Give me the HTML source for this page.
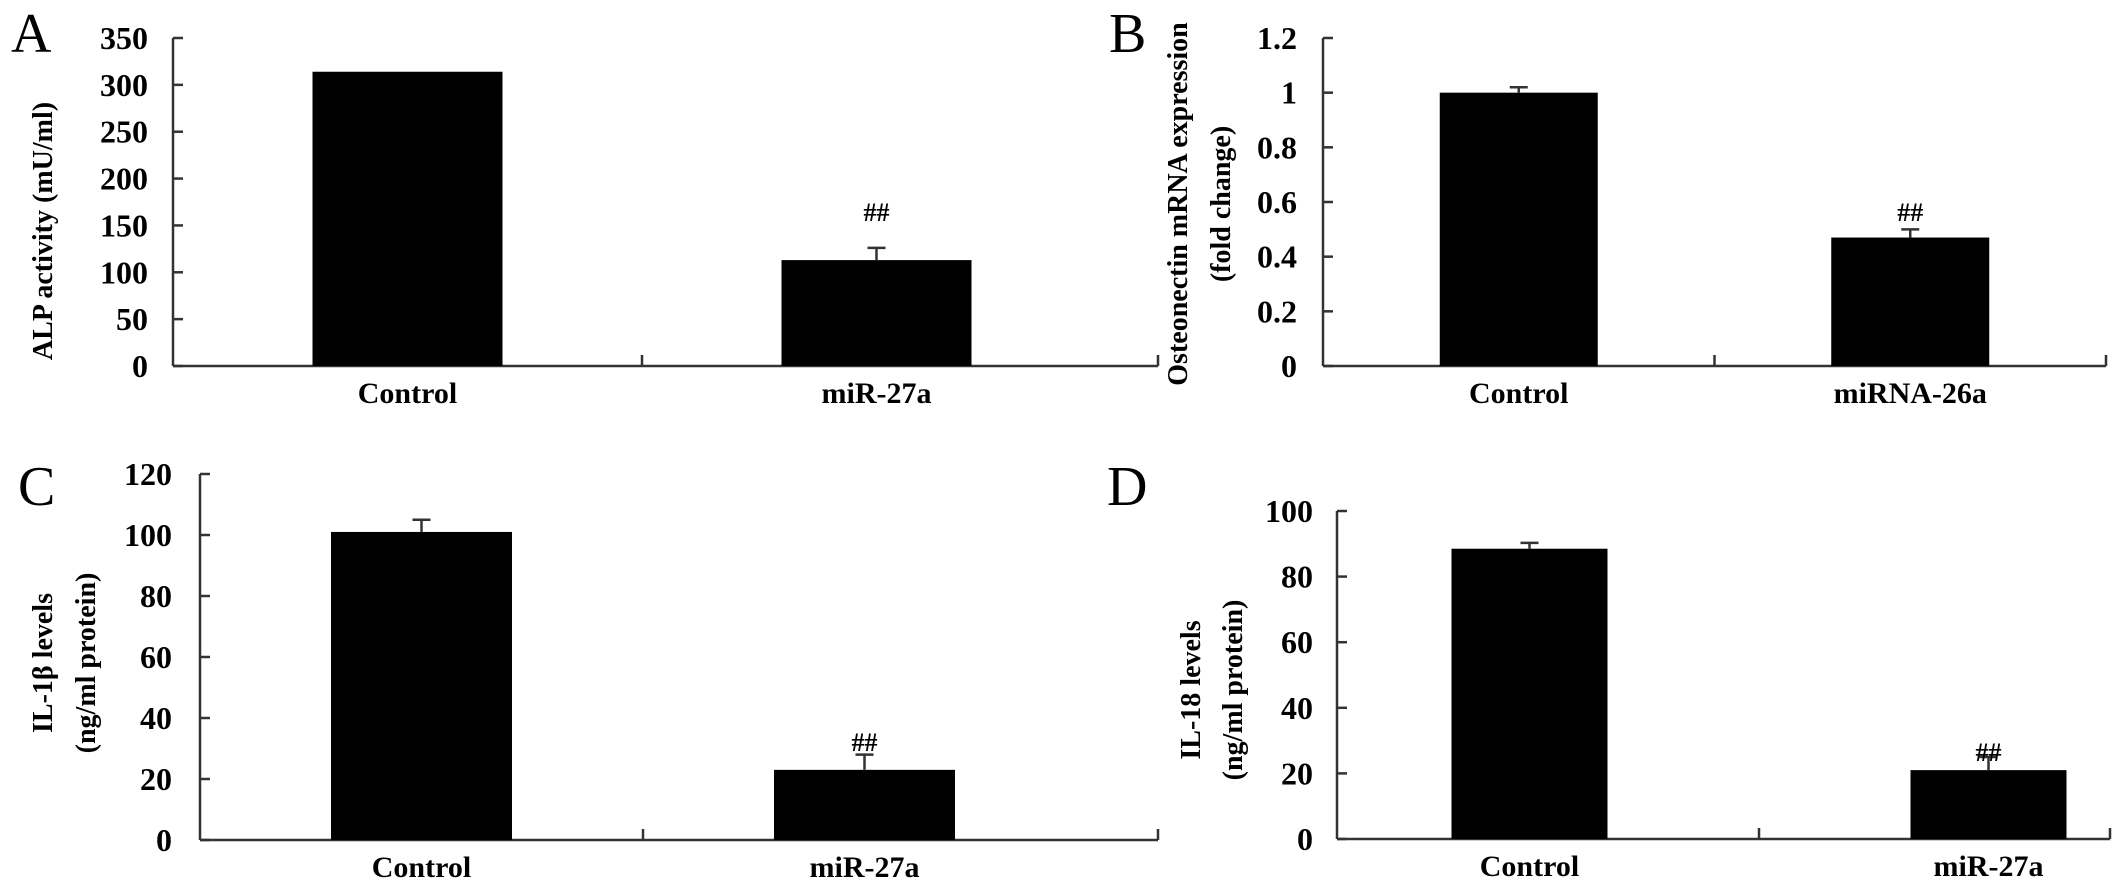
<!DOCTYPE html>
<html><head><meta charset="utf-8">
<style>
html,body{margin:0;padding:0;background:#fff;}
svg{display:block;font-family:"Liberation Serif","Times New Roman",serif;}
.tick{font-size:32px;font-weight:bold;}
.cat{font-size:30px;font-weight:bold;}
.ttl{font-size:28px;font-weight:bold;}
.letter{font-size:56px;}
.sig{font-size:26px;font-weight:bold;}
</style></head>
<body>
<svg id="fig" width="2126" height="895" viewBox="0 0 2126 895" xmlns="http://www.w3.org/2000/svg"></svg>
<script>
// Panel data arrays
const categoriesA = ["Control","miR-27a"];
const valuesA = [314, 113];
const errorsA = [0, 13];
const ticksA = [0,50,100,150,200,250,300,350];

const categoriesB = ["Control","miRNA-26a"];
const valuesB = [1.0, 0.47];
const errorsB = [0.02, 0.03];
const ticksB = [0,0.2,0.4,0.6,0.8,1,1.2];

const categoriesC = ["Control","miR-27a"];
const valuesC = [101, 23];
const errorsC = [4, 5];
const ticksC = [0,20,40,60,80,100,120];

const categoriesD = ["Control","miR-27a"];
const valuesD = [88.5, 21];
const errorsD = [1.8, 4];
const ticksD = [0,20,40,60,80,100];

const sigMarks = ["", "##"];

const NS = "http://www.w3.org/2000/svg";
const svg = document.getElementById('fig');
function mk(tag, attrs, parent){
  const e = document.createElementNS(NS, tag);
  for (const k in attrs) e.setAttribute(k, attrs[k]);
  (parent||svg).appendChild(e);
  return e;
}

function panel(cfg){
  const g = mk('g', {});
  
  
  const ymax = cfg.ticks[cfg.ticks.length-1];
  const y = v => cfg.y0 - (v/ymax)*(cfg.y0 - cfg.yTop);
  const band = (cfg.bandEnd - cfg.bandStart)/cfg.cats.length;
  const xc = i => cfg.bandStart + band*(i+0.5);
  const bw = cfg.barW;
  const stroke = '#333';

  const ya = mk('line', {x1:cfg.x0, y1:cfg.yTop, x2:cfg.x0, y2:cfg.y0, stroke:stroke, 'stroke-width':2.5}, g);
  
  
  cfg.ticks.forEach(t => {
    const tl = mk('line', {x1:cfg.x0, y1:y(t), x2:cfg.x0+10, y2:y(t), stroke:stroke, 'stroke-width':2.5}, g);
    
    
    const tx = mk('text', {x:cfg.labelRight, y:y(t)+11, 'text-anchor':'end', class:'tick'}, g);
    tx.textContent = String(t);
    
    
  });
  const xa = mk('line', {x1:cfg.x0, y1:cfg.y0, x2:cfg.axisEnd, y2:cfg.y0, stroke:stroke, 'stroke-width':2.5}, g);
  
  
  const tickXs = [];
  for (let i=1;i<cfg.cats.length;i++) tickXs.push(cfg.bandStart + band*i);
  tickXs.push(cfg.axisEnd);
  tickXs.forEach(xt => {
    const tk = mk('line', {x1:xt, y1:cfg.y0, x2:xt, y2:cfg.y0-11, stroke:stroke, 'stroke-width':2.5}, g);
    
    
  });
  cfg.cats.forEach((c,i) => {
    const top = y(cfg.vals[i]);
    const r = mk('rect', {x:xc(i)-bw/2, y:top, width:bw, height:cfg.y0-top, fill:'#000'}, g);
    
    
    if (cfg.errs[i] > 0){
      const et = y(cfg.vals[i]+cfg.errs[i]);
      const e1 = mk('line', {x1:xc(i), y1:top, x2:xc(i), y2:et, stroke:stroke, 'stroke-width':2.5}, g);
      
      
      const e2 = mk('line', {x1:xc(i)-9, y1:et, x2:xc(i)+9, y2:et, stroke:stroke, 'stroke-width':2.5}, g);
      
      
    }
    if (sigMarks[i]){
      const s = mk('text', {x:xc(i), y:cfg.sigY+9, 'text-anchor':'middle', class:'sig'}, g);
      s.textContent = sigMarks[i];
      
      
    }
    const cl = mk('text', {x:xc(i), y:cfg.y0+37, 'text-anchor':'middle', class:'cat'}, g);
    cl.textContent = c;
    
    
  });
  cfg.title.forEach((line, k) => {
    const tx = cfg.titleX[k];
    const t = mk('text', {x:tx, y:cfg.titleY, 'text-anchor':'middle', class:'ttl', transform:`rotate(-90 ${tx} ${cfg.titleY})`, dy:10}, g);
    t.textContent = line;
    
    
  });
  const L = mk('text', {x:cfg.letterX, y:cfg.letterY, class:'letter'}, g);
  L.textContent = cfg.id;
  
  
}

panel({id:'A', cats:categoriesA, vals:valuesA, errs:errorsA, ticks:ticksA,
  x0:173, bandStart:173, bandEnd:1111, axisEnd:1158, barW:190, y0:366, yTop:38, labelRight:148, sigY:212,
  title:['ALP activity (mU/ml)'], titleX:[42], titleY:231, letterX:11, letterY:52});
panel({id:'B', cats:categoriesB, vals:valuesB, errs:errorsB, ticks:ticksB,
  x0:1323, bandStart:1323, bandEnd:2106, axisEnd:2106, barW:158, y0:366, yTop:38, labelRight:1297, sigY:212,
  title:['Osteonectin mRNA expression','(fold change)'], titleX:[1177,1220], titleY:204, letterX:1109, letterY:52});
panel({id:'C', cats:categoriesC, vals:valuesC, errs:errorsC, ticks:ticksC,
  x0:200, bandStart:200, bandEnd:1086, axisEnd:1158, barW:181, y0:840, yTop:474, labelRight:172, sigY:742,
  title:['IL-1β levels','(ng/ml protein)'], titleX:[42,85], titleY:663, letterX:18, letterY:505});
panel({id:'D', cats:categoriesD, vals:valuesD, errs:errorsD, ticks:ticksD,
  x0:1337, bandStart:1300, bandEnd:2218, axisEnd:2110, barW:156, y0:839, yTop:511, labelRight:1313, sigY:752,
  title:['IL-18 levels','(ng/ml protein)'], titleX:[1190,1232], titleY:690, letterX:1107, letterY:505});
</script>
</body></html>
